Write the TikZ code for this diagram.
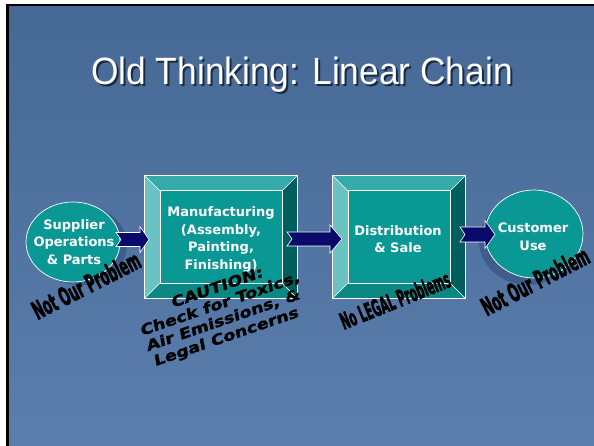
\documentclass[tikz,border=0pt]{standalone}
\usepackage{fontspec}
\setmainfont{DejaVu Sans}
\newfontfamily\titlefont{Liberation Sans}
\newfontfamily\heavyfont{DejaVu Sans Bold}[FakeBold=2.5]
\newfontfamily\blackfont{DejaVu Sans Bold}[FakeBold=1.5]
\usetikzlibrary{shapes.geometric,calc}
\definecolor{bgtop}{HTML}{456895}
\definecolor{bgbot}{HTML}{5B7EAD}
\definecolor{teal}{HTML}{0A9894}
\definecolor{bevtop}{HTML}{36AAA8}
\definecolor{bevleft}{HTML}{6AC3C2}
\definecolor{bevright}{HTML}{005F5D}
\definecolor{bevbot}{HTML}{0C8884}
\definecolor{navy}{HTML}{0A0A6A}
\definecolor{shadowc}{HTML}{2E4B7A}
\definecolor{titleshadow}{HTML}{1A2A45}
\newcommand{\bevelbox}[2]{%
  \coordinate (#1-oNW) at ($(#1.north west)+(-#2,-#2)$);
  \coordinate (#1-oNE) at ($(#1.north east)+(#2,-#2)$);
  \coordinate (#1-oSE) at ($(#1.south east)+(#2,#2)$);
  \coordinate (#1-oSW) at ($(#1.south west)+(-#2,#2)$);
  \fill[bevtop] (#1-oNW) -- (#1-oNE) -- (#1.north east) -- (#1.north west) -- cycle;
  \fill[bevleft] (#1-oNW) -- (#1.north west) -- (#1.south west) -- (#1-oSW) -- cycle;
  \fill[bevright] (#1-oNE) -- (#1-oSE) -- (#1.south east) -- (#1.north east) -- cycle;
  \fill[bevbot] (#1-oSW) -- (#1.south west) -- (#1.south east) -- (#1-oSE) -- cycle;
  \draw[thinwhite] (#1-oNW) rectangle (#1-oSE);
  \draw[thinwhite] (#1.north west) rectangle (#1.south east);
  \draw[thinwhite] (#1-oNW) -- (#1.north west) (#1-oNE) -- (#1.north east)
                   (#1-oSE) -- (#1.south east) (#1-oSW) -- (#1.south west);
}
% tail x, tip x, y, head length, body half, head half
\newcommand{\blockarrow}[6]{%
  \filldraw[navy, draw=white, line width=0.6pt]
    (#1,{#3-#5}) -- ({#2-#4},{#3-#5}) -- ({#2-#4},{#3-#6}) -- (#2,#3)
    -- ({#2-#4},{#3+#6}) -- ({#2-#4},{#3+#5}) -- (#1,{#3+#5}) -- ({#1+5},#3) -- cycle;
}
\begin{document}
\begin{tikzpicture}[x=1pt,y=-1pt,
  thinwhite/.style={draw=white, line width=0.6pt},
  bodytext/.style={text=white, font=\fontsize{13}{17.5}\selectfont\bfseries, align=center},
  ellip/.style={ellipse, fill=teal, draw=white, line width=0.7pt, inner sep=0pt, bodytext},
  face/.style={rectangle, fill=teal, inner sep=0pt, bodytext},
  heavy/.style={text=black, font=\heavyfont\fontsize{25}{25}\selectfont, inner sep=0pt},
  caution/.style={text=black, font=\blackfont\fontsize{14.5}{16.5}\selectfont, align=center, inner sep=0pt},
  titletext/.style={font=\titlefont\fontsize{38}{40}\selectfont, inner sep=0pt, anchor=base, xscale=0.93}
]
\useasboundingbox (0,0) rectangle (594,446);
\fill[white] (0,0) rectangle (594,446);
\fill[black] (6,4) rectangle (594,446);
\shade[top color=bgtop, bottom color=bgbot] (9,7) rectangle (594,446);

% title
\node[titletext, text=titleshadow] (titleshadow) at (304,87) {Old Thinking: Linear Chain};
\node[titletext, text=white] (title) at (302,85) {Old Thinking: Linear Chain};

% shadows of ellipses
\fill[shadowc, opacity=0.55] (80,245) ellipse [x radius=47, y radius=40];
\fill[shadowc, opacity=0.55] (528,241) ellipse [x radius=49, y radius=44];

% supplier
\node[ellip, minimum width=94, minimum height=80] (sup) at (73,242) {};
\node[bodytext] (suptext) at (74,242) {Supplier\\Operations\\\& Parts};

% manufacturing
\node[face, minimum width=122, minimum height=92] (mfg) at (221,237) {};
\bevelbox{mfg}{15.5}
\node[bodytext] (mfgtext) at (221,239.5) {Manufacturing\\(Assembly,\\Painting,\\Finishing)};

% distribution
\node[face, minimum width=102, minimum height=92] (dist) at (399,237) {};
\bevelbox{dist}{15.5}
\node[bodytext] (disttext) at (398,239) {Distribution\\\& Sale};

% customer
\node[ellip, minimum width=98, minimum height=88] (cus) at (534,234) {};
\node[bodytext] (custext) at (533,237) {Customer\\Use};

% arrows
\blockarrow{116}{149}{239.5}{9}{7}{13}
\blockarrow{287}{342}{239}{12}{7}{14}
\blockarrow{460}{495}{234.5}{10}{7.5}{14}

% black slanted texts
\node[heavy, rotate=27] (nop1) at (86,285) {\scalebox{0.5}[1]{Not Our Problem}};
\node[heavy, rotate=22, font=\heavyfont\fontsize{23}{23}\selectfont] (nolegal) at (395,300) {\scalebox{0.46}[1]{No LEGAL Problems}};
\node[heavy, rotate=27.5] (nop2) at (535,281) {\scalebox{0.5}[1]{Not Our Problem}};
\node[caution, rotate=19, xslant=0.15] (caution) at (222,313) {\scalebox{1.22}[1]{CAUTION:}\\\scalebox{1.22}[1]{Check for Toxics,}\\\scalebox{1.22}[1]{Air Emissions, \&}\\\scalebox{1.22}[1]{Legal Concerns}};
\end{tikzpicture}
\end{document}
